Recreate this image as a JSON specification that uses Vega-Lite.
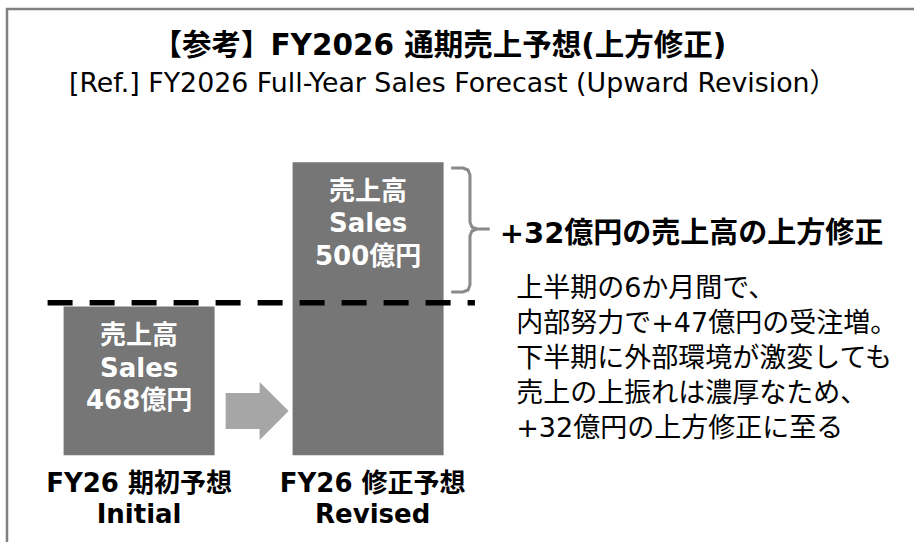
{
  "$schema": "https://vega.github.io/schema/vega-lite/v6.json",
  "width": 926,
  "height": 541,
  "padding": {"left": 7, "top": 9, "right": 0, "bottom": 0},
  "autosize": {"type": "pad"},
  "background": "white",
  "config": {
    "view": {"stroke": "#7f7f7f", "strokeWidth": 2.5},
    "text": {"font": "DejaVu Sans, Noto Sans CJK JP", "color": "#000000"}
  },
  "datasets": {
    "sales": [
      {"idx": 1, "forecast": "FY26 期初予想 Initial", "sales": 468},
      {"idx": 2, "forecast": "FY26 修正予想 Revised", "sales": 500}
    ],
    "bracket": [
      {"i": 1, "bx": 2.3629, "by": 498.73},
      {"i": 2, "bx": 2.4147, "by": 498.73},
      {"i": 3, "bx": 2.4363, "by": 498.29},
      {"i": 4, "bx": 2.4449, "by": 497.18},
      {"i": 5, "bx": 2.4449, "by": 486.75},
      {"i": 6, "bx": 2.4536, "by": 485.64},
      {"i": 7, "bx": 2.4752, "by": 485.20},
      {"i": 8, "bx": 2.5313, "by": 485.20},
      {"i": 9, "bx": 2.4752, "by": 485.20},
      {"i": 10, "bx": 2.4536, "by": 484.76},
      {"i": 11, "bx": 2.4449, "by": 483.65},
      {"i": 12, "bx": 2.4449, "by": 472.78},
      {"i": 13, "bx": 2.4363, "by": 471.67},
      {"i": 14, "bx": 2.4147, "by": 471.23},
      {"i": 15, "bx": 2.3629, "by": 471.23}
    ],
    "one": [{}]
  },
  "layer": [
    {
      "data": {"name": "sales"},
      "mark": {"type": "bar", "size": 151, "color": "#767676"},
      "encoding": {
        "x": {"field": "idx", "type": "quantitative", "scale": {"domain": [0.445, 4.445], "nice": false, "zero": false}, "axis": null},
        "y": {"field": "sales", "type": "quantitative", "scale": {"domain": [414, 534], "nice": false, "zero": false}, "axis": null},
        "y2": {"datum": 435}
      }
    },
    {
      "data": {"name": "one"},
      "mark": {"type": "rule", "color": "#000000", "strokeWidth": 5.5, "strokeDash": [25, 17]},
      "encoding": {
        "x": {"datum": 0.6004, "type": "quantitative", "axis": null},
        "x2": {"datum": 2.4665},
        "y": {"datum": 468.85, "type": "quantitative", "axis": null}
      }
    },
    {
      "data": {"name": "bracket"},
      "mark": {"type": "line", "color": "#8a8a8a", "strokeWidth": 3},
      "encoding": {
        "x": {"field": "bx", "type": "quantitative", "axis": null},
        "y": {"field": "by", "type": "quantitative", "axis": null},
        "order": {"field": "i", "type": "quantitative"}
      }
    },
    {
      "data": {"name": "one"},
      "mark": {"type": "rect", "color": "#a6a6a6"},
      "encoding": {
        "x": {"datum": 1.378, "type": "quantitative", "axis": null},
        "x2": {"datum": 1.5292},
        "y": {"datum": 448.82, "type": "quantitative", "axis": null},
        "y2": {"datum": 440.84}
      }
    },
    {
      "data": {"name": "one"},
      "mark": {"type": "point", "filled": true, "opacity": 1, "color": "#a6a6a6", "shape": "M-0.5,-1L0.5,0L-0.5,1Z", "size": 3364},
      "encoding": {
        "x": {"datum": 1.5896, "type": "quantitative", "axis": null},
        "y": {"datum": 444.83, "type": "quantitative", "axis": null}
      }
    },
    {
      "data": {"name": "one"},
      "mark": {"type": "text", "text": "【参考】FY2026 通期売上予想(上方修正)", "fontSize": 29.5, "fontWeight": "bold", "align": "center", "baseline": "alphabetic"},
      "encoding": {
        "x": {"datum": 2.311, "type": "quantitative", "axis": null},
        "y": {"datum": 523.8, "type": "quantitative", "axis": null}
      }
    },
    {
      "data": {"name": "one"},
      "mark": {"type": "text", "text": "[Ref.] FY2026 Full-Year Sales Forecast (Upward Revision）", "fontSize": 26.8, "align": "center", "baseline": "alphabetic"},
      "encoding": {
        "x": {"datum": 2.3694, "type": "quantitative", "axis": null},
        "y": {"datum": 515.6, "type": "quantitative", "axis": null}
      }
    },
    {
      "data": {"name": "one"},
      "mark": {"type": "text", "text": ["売上高", "Sales", "500億円"], "fontSize": 26, "fontWeight": "bold", "color": "#ffffff", "align": "center", "baseline": "alphabetic", "lineHeight": 32.5},
      "encoding": {
        "x": {"datum": 2, "type": "quantitative", "axis": null},
        "y": {"datum": 491.74, "type": "quantitative", "axis": null}
      }
    },
    {
      "data": {"name": "one"},
      "mark": {"type": "text", "text": ["売上高", "Sales", "468億円"], "fontSize": 26, "fontWeight": "bold", "color": "#ffffff", "align": "center", "baseline": "alphabetic", "lineHeight": 32.5},
      "encoding": {
        "x": {"datum": 1, "type": "quantitative", "axis": null},
        "y": {"datum": 459.69, "type": "quantitative", "axis": null}
      }
    },
    {
      "data": {"name": "one"},
      "mark": {"type": "text", "text": ["FY26 期初予想", "Initial"], "fontSize": 26, "fontWeight": "bold", "align": "center", "baseline": "alphabetic", "lineHeight": 31.3},
      "encoding": {
        "x": {"datum": 1.0, "type": "quantitative", "axis": null},
        "y": {"datum": 426.86, "type": "quantitative", "axis": null}
      }
    },
    {
      "data": {"name": "one"},
      "mark": {"type": "text", "text": ["FY26 修正予想", "Revised"], "fontSize": 26, "fontWeight": "bold", "align": "center", "baseline": "alphabetic", "lineHeight": 31.3},
      "encoding": {
        "x": {"datum": 2.02, "type": "quantitative", "axis": null},
        "y": {"datum": 426.86, "type": "quantitative", "axis": null}
      }
    },
    {
      "data": {"name": "one"},
      "mark": {"type": "text", "text": "+32億円の売上高の上方修正", "fontSize": 29, "fontWeight": "bold", "align": "left", "baseline": "alphabetic"},
      "encoding": {
        "x": {"datum": 2.5745, "type": "quantitative", "axis": null},
        "y": {"datum": 482.03, "type": "quantitative", "axis": null}
      }
    },
    {
      "data": {"name": "one"},
      "mark": {"type": "text", "text": ["上半期の6か月間で、", "内部努力で+47億円の受注増。", "下半期に外部環境が激変しても", "売上の上振れは濃厚なため、", "+32億円の上方修正に至る"], "fontSize": 27, "align": "left", "baseline": "alphabetic", "lineHeight": 35},
      "encoding": {
        "x": {"datum": 2.6467, "type": "quantitative", "axis": null},
        "y": {"datum": 470.12, "type": "quantitative", "axis": null}
      }
    }
  ]
}
